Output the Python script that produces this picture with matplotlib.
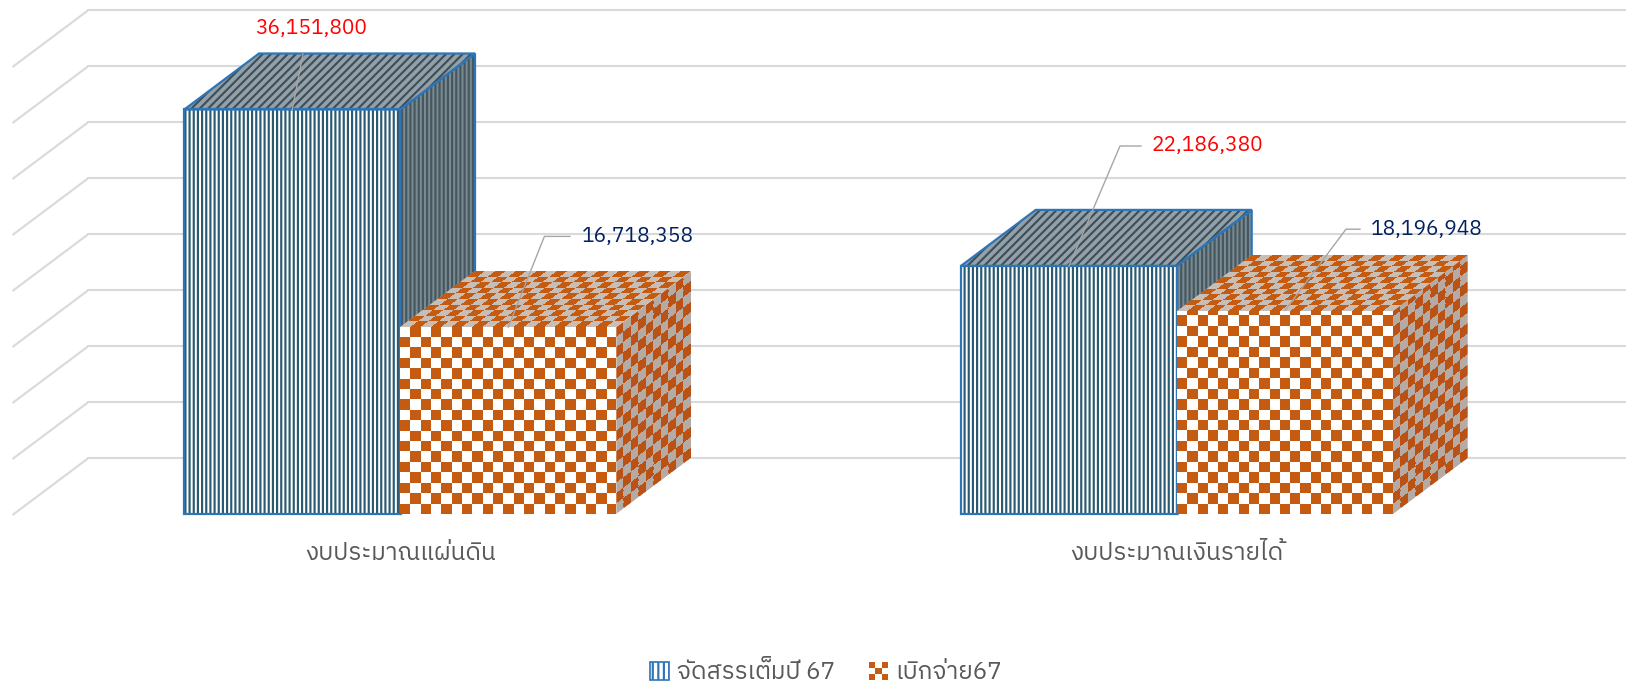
import numpy as np
import matplotlib
matplotlib.use("Agg")
import matplotlib.pyplot as plt
from matplotlib import font_manager
from matplotlib.colors import ListedColormap
from matplotlib.patches import Polygon, Rectangle, Patch
from matplotlib.transforms import Affine2D
from matplotlib.legend_handler import HandlerBase

# data
categories = ["งบประมาณแผ่นดิน", "งบประมาณเงินรายได้"]
series_names = ["จัดสรรเต็มปี 67", "เบิกจ่าย67"]
allocated = [36151800, 22186380]
disbursed = [16718358, 18196948]
label_colors = ["#ff0000", "#002060"]


def thai_family():
    try:
        from fontTools.ttLib import TTFont
    except ImportError:
        return None
    found = []
    for f in font_manager.fontManager.ttflist:
        try:
            cmap = TTFont(f.fname, fontNumber=0, lazy=True).getBestCmap()
        except Exception:
            continue
        if cmap and 0x0E07 in cmap and 0x0E31 in cmap:
            found.append(f.name)
    if not found:
        return None
    found.sort(key=lambda n: (("Thai" not in n), ("Sans" not in n), ("Looped" in n), n))
    return found[0]


thai = thai_family()
families = [thai, "DejaVu Sans"] if thai else ["DejaVu Sans"]
plt.rcParams["font.family"] = families
plt.rcParams["hatch.linewidth"] = 1.55

# layout (pixels of the 1626x686 canvas)
STEP = 5e6          # one gridline step
STEP_PX = 56.0
ZERO_PX = 514.4     # front baseline, px from top
DEPTH_X = 74.7
DEPTH_V = STEP      # depth rises one gridline step
BAR_W = 216.0
group_x = [400.3, 1177.0]


def v_at(py):
    return (ZERO_PX - py) / STEP_PX * STEP


fig = plt.figure(figsize=(16.26, 6.86), dpi=100)
ax = fig.add_axes([0, 0, 1, 1])
ax.set_axis_off()

# back wall + floor gridlines
for k in range(9):
    y = k * STEP
    ax.plot([88, 1626], [y + DEPTH_V, y + DEPTH_V], color="#d9d9d9", lw=1.5, zorder=0.5)
    ax.plot([88 - DEPTH_X, 88], [y, y + DEPTH_V], color="#d9d9d9", lw=1.5, zorder=0.5)


def checker(origin, e1, e2, n1, n2, colors, z, clip=None):
    arr = np.add.outer(np.arange(n2), np.arange(n1)) % 2
    tr = Affine2D.from_values(e1[0], e1[1], e2[0], e2[1], origin[0], origin[1]) + ax.transData
    im = ax.imshow(arr, cmap=ListedColormap(colors), vmin=0, vmax=1, origin="lower",
                   extent=(0, n1, 0, n2), transform=tr, interpolation="nearest",
                   aspect="auto", zorder=z)
    if clip is not None:
        cp = Polygon(clip, transform=ax.transData)
        im.set_clip_path(cp)
    return im


def faces(x0, v):
    front = [(x0, 0), (x0 + BAR_W, 0), (x0 + BAR_W, v), (x0, v)]
    top = [(x0, v), (x0 + BAR_W, v), (x0 + BAR_W + DEPTH_X, v + DEPTH_V), (x0 + DEPTH_X, v + DEPTH_V)]
    side = [(x0 + BAR_W, 0), (x0 + BAR_W + DEPTH_X, DEPTH_V), (x0 + BAR_W + DEPTH_X, v + DEPTH_V), (x0 + BAR_W, v)]
    return front, top, side


def striped_bar(x0, v, z):
    front, top, side = faces(x0, v)
    ax.add_patch(Polygon(side, facecolor="#7a8a91", edgecolor="#46575f", hatch="||||", lw=0, zorder=z))
    ax.add_patch(Polygon(top, facecolor="#94a0a7", edgecolor="#3c4f5b", hatch="////", lw=0, zorder=z))
    ax.add_patch(Polygon(front, facecolor="white", edgecolor="#295a72", hatch="||||", lw=0, zorder=z))
    for poly in (side, top, front):
        ax.add_patch(Polygon(poly, fill=False, edgecolor="#2e75b6", lw=1.6, joinstyle="miter", zorder=z))


def checker_bar(x0, v, z):
    front, top, side = faces(x0, v)
    sq = 10.4
    n1 = int(round(BAR_W / sq))
    sqv = sq / STEP_PX * STEP
    n2 = int(np.ceil(v / sqv))
    nd = 10
    checker((x0 + BAR_W, 0), (DEPTH_X / nd, DEPTH_V / nd), (0, sqv), nd, n2,
            ["#b5aba4", "#bb5215"], z, clip=side)
    checker((x0, v), (BAR_W / n1, 0), (DEPTH_X / nd, DEPTH_V / nd), n1, nd,
            ["#c9beb6", "#c55a11"], z)
    checker((x0, 0), (BAR_W / n1, 0), (0, sqv), n1, n2, ["#c55a11", "#ffffff"], z, clip=front)


z = 2
for g in range(len(categories)):
    striped_bar(group_x[g] - BAR_W, allocated[g], z)
    z += 1
    checker_bar(group_x[g], disbursed[g], z)
    z += 1

# data labels with leader lines
values = [allocated[0], disbursed[0], allocated[1], disbursed[1]]
bar_x = [group_x[0] - BAR_W / 2, group_x[0] + BAR_W / 2, group_x[1] - BAR_W / 2, group_x[1] + BAR_W / 2]
colors = [label_colors[0], label_colors[1], label_colors[0], label_colors[1]]
text_pos = [(311, 28), (581.7, 236.4), (1151, 146), (1371, 229.2)]
elbow = [(303, 54), (544.4, 236.4), (1120, 146), (1346, 229.2)]
leader_end = [None, 570, 1141, 1360]
for i, val in enumerate(values):
    ex, ey = elbow[i]
    xs = [bar_x[i], ex]
    ys = [val, v_at(ey)]
    if leader_end[i] is not None:
        xs.append(leader_end[i])
        ys.append(v_at(ey))
    ax.plot(xs, ys, color="#a6a6a6", lw=1.0, zorder=20)
    tx, ty = text_pos[i]
    ax.text(tx, v_at(ty), f"{val:,}", color=colors[i], fontsize=15,
            ha="center" if leader_end[i] is None else "left", va="center", zorder=21)

# category labels
for g, name in enumerate(categories):
    ax.text(group_x[g], v_at(553), name, color="#595959", fontsize=17.5,
            ha="center", va="center")


class CheckerHandler(HandlerBase):
    def create_artists(self, legend, orig_handle, xdescent, ydescent, width, height, fontsize, trans):
        arts = []
        n = 3
        for i in range(n):
            for j in range(n):
                c = "#c55a11" if (i + j) % 2 == 0 else "white"
                arts.append(Rectangle((-xdescent + j * width / n, -ydescent + i * height / n),
                                      width / n, height / n, facecolor=c, edgecolor="none",
                                      transform=trans))
        return arts


h1 = Patch(facecolor="white", edgecolor="#2e75b6", hatch="|||", lw=1.2)
h2 = Patch(facecolor="#c55a11")
fig.legend([h1, h2], series_names, handler_map={h2: CheckerHandler()},
           loc="center", bbox_to_anchor=(0.508, 0.019), ncol=2, frameon=False,
           fontsize=17.5, labelcolor="#595959", handlelength=0.8, handleheight=0.75,
           handletextpad=0.3, columnspacing=1.4)

ax.set_xlim(0, 1626)
ax.set_ylim(v_at(686), v_at(0))

fig.savefig("out.png", dpi=100)
